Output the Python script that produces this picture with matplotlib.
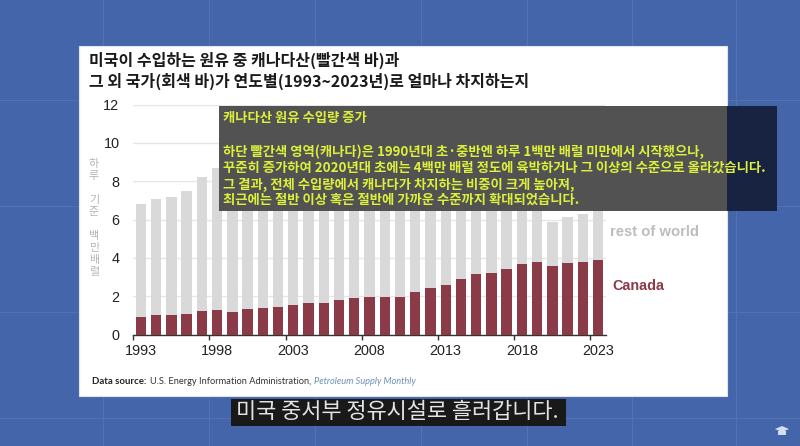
import matplotlib
matplotlib.use('Agg')
import matplotlib.pyplot as plt
from matplotlib.patches import Rectangle

plt.rcParams['font.family'] = ['Noto Sans CJK KR', 'DejaVu Sans']

years = list(range(1993, 2024))
canada = [0.91, 1.03, 1.04, 1.07, 1.21, 1.27, 1.18, 1.35, 1.36, 1.45, 1.55, 1.62, 1.63, 1.80, 1.89,
          1.96, 1.94, 1.97, 2.23, 2.42, 2.57, 2.88, 3.16, 3.22, 3.43, 3.70, 3.80, 3.58, 3.75, 3.80, 3.88]
# totals from 1999 on sit behind the caption box, estimated
total = [6.80, 7.05, 7.20, 7.50, 8.22, 8.70, 8.73, 9.07, 9.33, 9.14, 9.66, 10.09, 10.13, 10.12, 10.03,
         9.78, 9.01, 9.21, 8.93, 8.53, 7.73, 7.34, 7.36, 7.85, 7.97, 7.77, 6.80, 5.88, 6.11, 6.28, 6.48]
rest = [t - c for t, c in zip(total, canada)]
tick_years = [1993, 1998, 2003, 2008, 2013, 2018, 2023]
y_ticks = [0, 2, 4, 6, 8, 10, 12]

title_lines = ['미국이 수입하는 원유 중 캐나다산(빨간색 바)과',
               '그 외 국가(회색 바)가 연도별(1993~2023년)로 얼마나 차지하는지']
box_lines = ['캐나다산 원유 수입량 증가',
             '하단 빨간색 영역(캐나다)은 1990년대 초·중반엔 하루 1백만 배럴 미만에서 시작했으나,',
             '꾸준히 증가하여 2020년대 초에는 4백만 배럴 정도에 육박하거나 그 이상의 수준으로 올라갔습니다.',
             '그 결과, 전체 수입량에서 캐나다가 차지하는 비중이 크게 높아져,',
             '최근에는 절반 이상 혹은 절반에 가까운 수준까지 확대되었습니다.']
subtitle = '미국 중서부 정유시설로 흘러갑니다.'

W, H = 800, 446
BLUE = '#4465A9'
RED = '#8B3A47'
GREY = '#D9D9D9'
YELLOW = '#DDF03C'

fig = plt.figure(figsize=(8, 4.46), dpi=100, facecolor=BLUE)

# background slide, in pixel coordinates
bg = fig.add_axes([0, 0, 1, 1], zorder=0)
bg.set_xlim(0, W)
bg.set_ylim(H, 0)
bg.axis('off')
for x in [103, 209, 315, 421, 527, 632, 736]:
    bg.axvline(x, color='#5272B3', lw=0.8, zorder=0)
for y in [100, 206, 312, 418]:
    bg.axhline(y, color='#5272B3', lw=0.8, zorder=0)
bg.add_patch(Rectangle((79, 46), 647.5, 350, fc='white', ec='#DDE4F2', lw=0.8, zorder=1))
bg.text(89, 60, title_lines[0], fontsize=11.5, fontweight='bold', color='#1A1A1A', va='center')
bg.text(89, 81, title_lines[1], fontsize=11.5, fontweight='bold', color='#1A1A1A', va='center')
bg.text(94, 218, '하\n루\n\n기\n준\n\n백\n만\n배\n럴', fontsize=8, color='#B5B5B5', ha='center', va='center',
        linespacing=1.25)
bg.text(610.5, 232, 'rest of world', fontsize=10.6, fontweight='bold', color='#BDBDBD', va='center',
        family='Liberation Sans')
bg.text(612, 286, 'Canada', fontsize=10.4, fontweight='bold', color=RED, va='center', family='Liberation Sans')
bg.text(92, 382, 'Data source:', fontsize=6.9, fontweight='bold', color='#222222', va='center', family='Lato')
bg.text(150, 382, 'U.S. Energy Information Administration,', fontsize=6.7, color='#333333', va='center',
        family='Lato')
bg.text(313.5, 382, 'Petroleum Supply Monthly', fontsize=6.7, style='italic', color='#6E8FB5', va='center',
        family='Lato')

# the chart itself
left, right, top, bottom = 133.3, 605.7, 104.5, 334.5
ax = fig.add_axes([left / W, 1 - bottom / H, (right - left) / W, (bottom - top) / H], zorder=1)
ax.patch.set_alpha(0)
ax.bar(years, canada, width=0.68, color=RED, zorder=3)
ax.bar(years, rest, width=0.68, bottom=canada, color=GREY, zorder=3)
ax.set_xlim(1992.5, 2023.5)
ax.set_ylim(0, 12)
ax.set_yticks(y_ticks)
ax.set_xticks(tick_years)
ax.set_xticks([y - 0.5 for y in tick_years], minor=True)
ax.tick_params(axis='x', which='major', length=0, pad=7, labelsize=10.4, labelcolor='#222222')
ax.tick_params(axis='x', which='minor', length=3.5, width=1, color='#333333')
ax.tick_params(axis='y', length=0, pad=10, labelsize=10.4, labelcolor='#222222')
for label in ax.get_xticklabels() + ax.get_yticklabels():
    label.set_family('Liberation Sans')
ax.grid(axis='y', color='#E6E6E6', lw=1, zorder=0)
for side in ['top', 'left', 'right']:
    ax.spines[side].set_visible(False)
ax.spines['bottom'].set_color('#333333')
ax.spines['bottom'].set_linewidth(1)

# caption overlays, the box hides the bars in the video frame
top_ax = fig.add_axes([0, 0, 1, 1], zorder=2)
top_ax.set_xlim(0, W)
top_ax.set_ylim(H, 0)
top_ax.axis('off')
top_ax.add_patch(Rectangle((219, 106), 507.5, 105, fc='#525252', lw=0))
top_ax.add_patch(Rectangle((726.5, 106), 50.5, 105, fc='#182241', lw=0))
for text, y in zip(box_lines, [118, 152, 168, 184.5, 200]):
    top_ax.text(223, y, text, fontsize=9.6, fontweight='bold', color=YELLOW, va='center')
top_ax.add_patch(Rectangle((231, 398.5), 335, 27, fc='#191919', lw=0))
top_ax.text(236, 412, subtitle, fontsize=15.8, color='#E4E4E4', va='center')

# small cap logo at the corner
top_ax.fill([775, 782, 789, 782], [429, 426, 429, 432], color='#D5DEEE', lw=0)
top_ax.fill([778, 786, 786, 778], [431, 431, 435, 435], color='#D5DEEE', lw=0)

fig.savefig('out.png', dpi=100, facecolor=BLUE)
